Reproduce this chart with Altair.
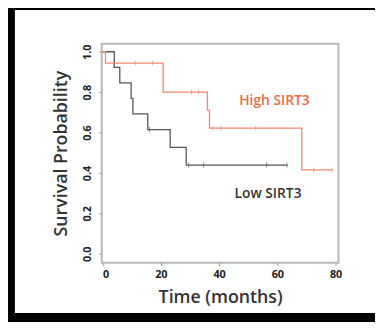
import altair as alt
import pandas as pd

# Kaplan-Meier step curves (time in months, survival probability)
low_t = [0, 4.0, 5.9, 9.8, 10.4, 15.5, 23.2, 28.7, 63.5]
low_s = [1.0, 0.923, 0.846, 0.769, 0.692, 0.615, 0.527, 0.439, 0.439]
low_cens_t = [16.1, 29.6, 34.7, 56.3, 63.3]
low_cens_s = [0.615, 0.439, 0.439, 0.439, 0.439]

high_t = [0, 1.0, 20.8, 36.0, 36.7, 68.4, 79.0]
high_s = [1.0, 0.944, 0.80, 0.711, 0.622, 0.415, 0.415]
high_cens_t = [11.2, 17.2, 30.5, 33.0, 37.9, 40.6, 52.6, 72.5, 78.8]
high_cens_s = [0.944, 0.944, 0.80, 0.80, 0.622, 0.622, 0.622, 0.415, 0.415]

label_text = ["High SIRT3", "Low SIRT3"]
label_t = [59.0, 56.8]
label_s = [0.756, 0.298]

x_ticks = [0, 20, 40, 60, 80]
y_ticks = [0.0, 0.2, 0.4, 0.6, 0.8, 1.0]

ORANGE_LINE = "#f3876a"
ORANGE_TEXT = "#ef6a45"
GRAY_LINE = "#555555"
FONT = "Open Sans"

W, H = 240, 222

x_scale = alt.Scale(domain=[-0.3, 81], nice=False, zero=False)
y_scale = alt.Scale(domain=[-0.044, 1.04], nice=False, zero=False)

x_axis = alt.Axis(values=x_ticks, domain=False, grid=False, tickSize=3,
                  tickColor="#999999", labelFont=FONT, labelFontSize=11,
                  labelFontWeight="bold", labelColor="#222222", labelPadding=3,
                  title="Time (months)", titleFont=FONT, titleFontSize=18,
                  titleFontWeight=600, titleColor="#333333", titlePadding=9,
                  zindex=1)
y_axis = alt.Axis(values=y_ticks, format=".1f", domain=False, grid=False,
                  tickSize=3, tickColor="#999999", labelFont=FONT,
                  labelFontSize=11, labelFontWeight="bold", labelColor="#222222",
                  labelAngle=270, labelAlign="center", labelBaseline="bottom",
                  labelPadding=6, title="Survival Probability", titleFont=FONT,
                  titleFontSize=18, titleFontWeight=600, titleColor="#333333",
                  titlePadding=12, zindex=1)

one = pd.DataFrame({"a": [0]})

white = alt.Chart(one).mark_rect(color="white").encode(
    x=alt.value(-88), x2=alt.value(277), y=alt.value(-34), y2=alt.value(273))

box = alt.Chart(one).mark_rect(filled=False, stroke="#b8b8b8", strokeWidth=2).encode(
    x=alt.value(0), x2=alt.value(W), y=alt.value(0), y2=alt.value(H))

low_df = pd.DataFrame({"t": low_t, "s": low_s})
high_df = pd.DataFrame({"t": high_t, "s": high_s})
low_c = pd.DataFrame({"t": low_cens_t, "s": low_cens_s})
high_c = pd.DataFrame({"t": high_cens_t, "s": high_cens_s})
lab = pd.DataFrame({"text": label_text, "t": label_t, "s": label_s})

low_line = alt.Chart(low_df).mark_line(interpolate="step-after", color=GRAY_LINE,
                                       strokeWidth=1.3).encode(
    x=alt.X("t:Q", scale=x_scale, axis=x_axis),
    y=alt.Y("s:Q", scale=y_scale, axis=y_axis))
high_line = alt.Chart(high_df).mark_line(interpolate="step-after", color=ORANGE_LINE,
                                         strokeWidth=1.3).encode(
    x="t:Q", y="s:Q")
low_ticks = alt.Chart(low_c).mark_tick(orient="vertical", color=GRAY_LINE,
                                       size=5, thickness=1).encode(x="t:Q", y="s:Q")
high_ticks = alt.Chart(high_c).mark_tick(orient="vertical", color=ORANGE_LINE,
                                         size=5, thickness=1).encode(x="t:Q", y="s:Q")

texts = alt.Chart(lab).mark_text(font=FONT, fontSize=14, fontWeight=600).encode(
    x="t:Q", y="s:Q", text="text:N",
    color=alt.Color("text:N", scale=alt.Scale(domain=label_text,
                                              range=[ORANGE_TEXT, "#333333"]),
                    legend=None))

chart = alt.layer(white, box, low_line, high_line, low_ticks, high_ticks, texts).properties(
    width=W, height=H, background="black",
    padding={"left": 95, "top": 34, "right": 37, "bottom": 58},
    autosize=alt.AutoSizeParams(type="none"),
).configure_view(stroke=None)

chart.save("out.html", embed_options={"renderer": "svg", "actions": False})
